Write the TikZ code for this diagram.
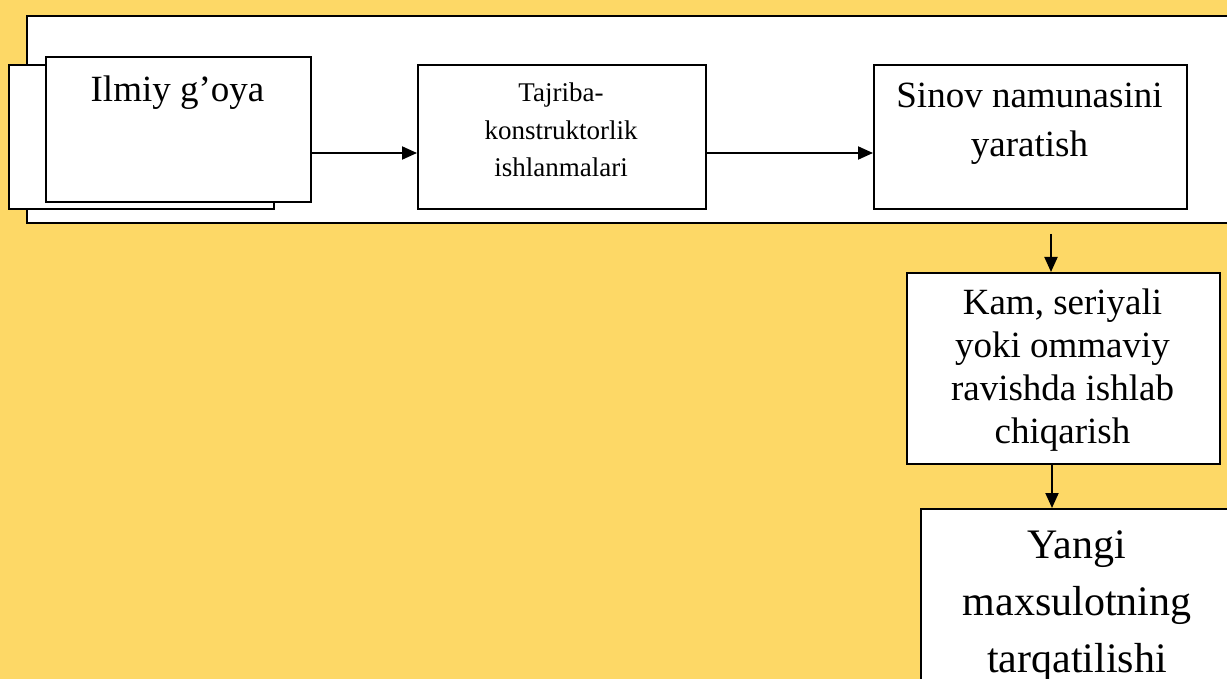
\documentclass[tikz,border=0pt]{standalone}
\usepackage{fontspec}
\setmainfont{Liberation Serif}
\usetikzlibrary{arrows.meta}
\definecolor{bgyellow}{RGB}{253,216,102}
\begin{document}
\begin{tikzpicture}[x=1pt,y=-1pt,
  box/.style={draw=black, line width=2pt, fill=white, rectangle, inner sep=0pt, anchor=north west},
  txt/.style={align=center, anchor=base, inner sep=0pt},
  flow/.style={line width=2pt, -{Triangle[length=15pt,width=13pt]}}]
\useasboundingbox (0,0) rectangle (1227,679);
\clip (0,0) rectangle (1227,679);
\fill[bgyellow] (0,0) rectangle (1227,679);

% top panel holding the first three stages
\node[box, minimum width=1214pt, minimum height=207pt] (outer) at (26,15) {};
\node[box, minimum width=265pt, minimum height=144pt] (shadow) at (8,64) {};
\node[box, minimum width=265pt, minimum height=145pt] (ilmiy) at (45,56) {};
\node[box, minimum width=288pt, minimum height=144pt] (tajriba) at (417,64) {};
\node[box, minimum width=313pt, minimum height=144pt] (sinov) at (873,64) {};

% lower stages
\node[box, minimum width=313pt, minimum height=191pt] (kam) at (906,272) {};
\node[box, minimum width=315pt, minimum height=192pt] (yangi) at (920,508) {};

% labels (base anchor = baseline of the last line)
\node[txt, font=\fontsize{37}{49}\selectfont] (ilmiyT) at (177.5,102) {Ilmiy g’oya};
\node[txt, font=\fontsize{27}{37.5}\selectfont] (tajribaT) at (561,177) {Tajriba-\\konstruktorlik\\ishlanmalari};
\node[txt, font=\fontsize{37}{49}\selectfont] (sinovT) at (1029.5,157) {Sinov namunasini\\yaratish};
\node[txt, font=\fontsize{37}{42.7}\selectfont] (kamT) at (1062.5,443) {Kam, seriyali\\yoki ommaviy\\ravishda ishlab\\chiqarish};
\node[txt, font=\fontsize{42}{57}\selectfont] (yangiT) at (1077,672) {Yangi\\maxsulotning\\tarqatilishi};

% connectors
\draw[flow] ([yshift=-23.5pt]ilmiy.east) -- ([yshift=-16pt]tajriba.west);
\draw[flow] ([yshift=-16pt]tajriba.east) -- ([yshift=-16pt]sinov.west);
\coordinate (kamIn) at ([xshift=-12.5pt]kam.north);
\draw[flow] ([yshift=-10pt]outer.south -| kamIn) -- (kamIn);
\draw[flow] ([xshift=-11.5pt]kam.south) -- ([xshift=-11.5pt]kam.south |- yangi.north);
\end{tikzpicture}
\end{document}
